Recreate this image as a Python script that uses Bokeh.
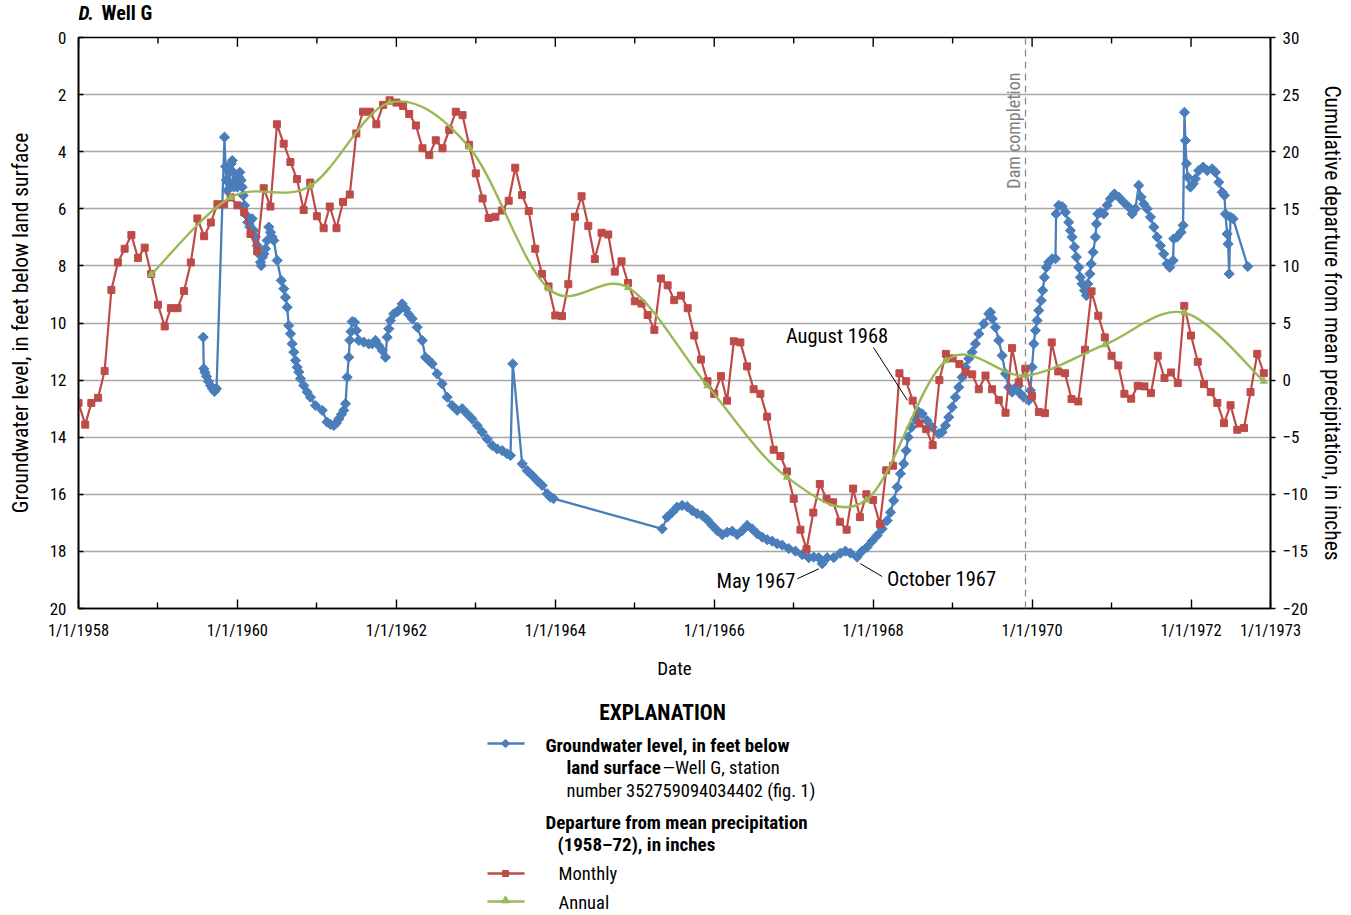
import numpy as np
import pandas as pd
from bokeh.plotting import figure
from bokeh.models import Range1d, LinearAxis, FixedTicker, Span, Grid
from bokeh.layouts import column
from bokeh.embed import file_html
from bokeh.resources import INLINE
from bokeh.core.properties import value

FONT = "Liberation Sans Narrow, Roboto Condensed, DejaVu Sans Condensed, Roboto, sans-serif"
BLUE = "#4A7EBB"
RED = "#BE4B48"
GREEN = "#98B954"

# ---------------- data ----------------
# Monthly cumulative departure from mean precipitation (inches), Jan 1958 - Dec 1972
monthly_1958 = [-2.0, -3.9, -2.0, -1.55, 0.8, 7.9, 10.3, 11.5, 12.7, 10.7, 11.6, 9.3]
monthly_1959 = [6.6, 4.7, 6.3, 6.3, 7.8, 10.3, 14.15, 12.6, 13.8, 15.4, 15.4, 16.0]
monthly_1960 = [15.3, 14.7, 12.8, 11.3, 16.8, 15.2, 22.4, 20.7, 19.1, 17.6, 14.9, 17.3]
monthly_1961 = [14.35, 13.3, 15.2, 13.3, 15.6, 16.25, 21.6, 23.5, 23.5, 22.4, 24.1, 24.5]
monthly_1962 = [24.3, 24.0, 23.3, 22.3, 20.3, 19.7, 21.0, 20.3, 21.9, 23.5, 23.2, 20.6]
monthly_1963 = [18.1, 15.9, 14.2, 14.3, 14.85, 15.7, 18.6, 16.2, 14.8, 11.5, 9.3, 8.2]
monthly_1964 = [5.66, 5.6, 8.4, 14.3, 16.1, 13.5, 10.6, 12.9, 12.75, 9.5, 10.4, 8.5]
monthly_1965 = [6.9, 6.7, 5.7, 4.4, 8.9, 8.3, 7.0, 7.4, 6.3, 3.9, 1.8, -0.1]
monthly_1966 = [-1.2, 0.35, -1.8, 3.4, 3.3, 1.2, -0.8, -1.2, -3.2, -6.1, -6.65, -8.0]
monthly_1967 = [-10.4, -13.1, -14.8, -11.6, -9.1, -10.4, -10.7, -12.4, -13.1, -9.5, -12.0, -10.0]
monthly_1968 = [-10.5, -12.6, -7.9, -7.5, 0.6, -0.1, -1.8, -3.8, -4.3, -5.7, 0.0, 2.3]
monthly_1969 = [1.9, 1.4, 0.7, 0.5, -0.8, 0.4, -0.8, -1.75, -2.86, 2.8, -0.2, 1.0]
monthly_1970 = [-1.4, -2.8, -2.9, 3.3, 0.76, 0.6, -1.66, -1.87, 2.66, 7.77, 5.64, 3.74]
monthly_1971 = [2.13, 1.28, -1.2, -1.63, -0.5, -0.55, -1.14, 2.13, 0.18, 0.67, -0.26, 6.5]
monthly_1972 = [3.9, 1.6, -0.35, -1.05, -2.0, -3.77, -2.2, -4.35, -4.2, -1.05, 2.3, 0.6]
monthly_values = (monthly_1958 + monthly_1959 + monthly_1960 + monthly_1961 + monthly_1962
                  + monthly_1963 + monthly_1964 + monthly_1965 + monthly_1966 + monthly_1967
                  + monthly_1968 + monthly_1969 + monthly_1970 + monthly_1971 + monthly_1972)
monthly_start = "1958-01-01"

# Annual cumulative departure (plotted at December of each year)
annual_years = [1958, 1959, 1960, 1961, 1962, 1963, 1964, 1965, 1966, 1967, 1968, 1969, 1970, 1971, 1972]
annual_values = [9.25, 16.0, 17.0, 24.3, 20.4, 8.0, 8.1, -0.5, -8.5, -10.5, 1.7, 0.4, 3.1, 5.9, -0.1]

# Groundwater level (feet below land surface), Well G -- time as decimal year
gw_year = [
    1959.569, 1959.577, 1959.592, 1959.611, 1959.636, 1959.661, 1959.686, 1959.711, 1959.737,
    1959.837, 1959.850, 1959.859, 1959.871, 1959.891, 1959.904, 1959.921, 1959.934, 1959.947,
    1959.954, 1959.976, 1959.997, 1960.017, 1960.030, 1960.047, 1960.060, 1960.072, 1960.089,
    1960.114, 1960.130, 1960.156, 1960.186, 1960.206, 1960.227, 1960.249, 1960.269, 1960.290,
    1960.299, 1960.315, 1960.332, 1960.353, 1960.374, 1960.395, 1960.416, 1960.437, 1960.458,
    1960.500, 1960.551, 1960.583, 1960.605, 1960.626, 1960.646, 1960.668, 1960.689, 1960.709,
    1960.731, 1960.752, 1960.772, 1960.793, 1960.835, 1960.878, 1960.919, 1960.982,
    1961.067, 1961.129, 1961.171, 1961.213, 1961.246, 1961.275, 1961.309, 1961.338, 1961.360,
    1961.381, 1961.401, 1961.414, 1961.429, 1961.444, 1961.473, 1961.498, 1961.527, 1961.590,
    1961.653, 1961.696, 1961.737, 1961.779, 1961.821, 1961.863, 1961.884, 1961.905, 1961.926,
    1961.967, 1962.010, 1962.030, 1962.073, 1962.115, 1962.156, 1962.199, 1962.262, 1962.325,
    1962.366, 1962.404, 1962.451, 1962.514, 1962.576, 1962.639, 1962.702, 1962.765, 1962.828,
    1962.891, 1962.954, 1963.017, 1963.080, 1963.143, 1963.206, 1963.269, 1963.332, 1963.394,
    1963.436, 1963.465, 1963.583, 1963.646, 1963.709, 1963.772, 1963.835, 1963.898, 1963.939,
    1963.977,
    1965.345, 1965.408, 1965.471, 1965.533, 1965.596, 1965.659, 1965.722, 1965.785, 1965.848,
    1965.911, 1965.974, 1966.037, 1966.100, 1966.163, 1966.226, 1966.289, 1966.352, 1966.414,
    1966.477, 1966.540, 1966.603, 1966.666, 1966.729, 1966.792, 1966.855, 1966.938, 1967.022,
    1967.106, 1967.189, 1967.252, 1967.315, 1967.358, 1967.421, 1967.504, 1967.588, 1967.651,
    1967.714, 1967.798, 1967.861, 1967.924, 1967.987, 1968.050, 1968.113, 1968.176, 1968.218,
    1968.259, 1968.302, 1968.343, 1968.385, 1968.415, 1968.440, 1968.482, 1968.532, 1968.574,
    1968.616, 1968.679, 1968.742, 1968.825, 1968.868, 1968.910, 1968.951, 1968.994, 1969.035,
    1969.077, 1969.120, 1969.161, 1969.203, 1969.246, 1969.287, 1969.329, 1969.392, 1969.455,
    1969.476, 1969.498, 1969.539, 1969.581, 1969.623, 1969.665, 1969.706, 1969.749, 1969.790,
    1969.828, 1969.853, 1969.895, 1969.958, 1969.979, 1970.000, 1970.021, 1970.042, 1970.063,
    1970.084, 1970.114, 1970.134, 1970.155, 1970.180, 1970.209, 1970.252, 1970.294, 1970.302,
    1970.335, 1970.378, 1970.419, 1970.461, 1970.482, 1970.504, 1970.533, 1970.558, 1970.587,
    1970.608, 1970.630, 1970.659, 1970.684, 1970.700, 1970.726, 1970.743, 1970.768, 1970.797,
    1970.810, 1970.826, 1970.860, 1970.902, 1970.944, 1970.986, 1971.036, 1971.090, 1971.153,
    1971.216, 1971.259, 1971.300, 1971.342, 1971.372, 1971.405, 1971.448, 1971.489, 1971.531,
    1971.573, 1971.615, 1971.656, 1971.699, 1971.732, 1971.774, 1971.782, 1971.824, 1971.875,
    1971.900, 1971.917, 1971.929, 1971.942, 1971.958, 1971.992, 1972.026, 1972.055, 1972.097,
    1972.152, 1972.203, 1972.265, 1972.307, 1972.349, 1972.392, 1972.421, 1972.433, 1972.455,
    1972.467, 1972.480, 1972.496, 1972.530, 1972.714,
]
gw_level = [
    10.5, 11.6, 11.73, 11.87, 12.05, 12.19, 12.3, 12.4, 12.3,
    3.49, 4.52, 5.0, 5.36, 4.66, 5.12, 4.42, 4.31, 4.72,
    5.24, 5.0, 5.24, 4.89, 4.72, 5.0, 5.24, 5.53, 5.88,
    6.23, 6.47, 6.64, 6.35, 6.76, 6.99, 7.29, 7.58, 7.87,
    7.99, 7.69, 7.58, 7.4, 7.11, 6.64, 6.82, 6.99, 7.11,
    7.81, 8.51, 8.8, 9.1, 9.45, 10.09, 10.38, 10.73, 11.02,
    11.31, 11.55, 11.72, 11.95, 12.19, 12.42, 12.6, 12.89,
    13.06, 13.47, 13.55, 13.59, 13.5, 13.36, 13.2, 13.06, 12.83,
    11.9, 11.2, 10.6, 10.3, 9.95, 9.97, 10.26, 10.61, 10.67,
    10.73, 10.73, 10.61, 10.79, 10.96, 11.2, 10.5, 10.2, 9.91,
    9.68, 9.6, 9.56, 9.33, 9.5, 9.7, 9.85, 10.15, 10.61,
    11.2, 11.3, 11.43, 11.78, 12.13, 12.6, 12.89, 13.06, 13.0,
    13.18, 13.36, 13.59, 13.82, 14.06, 14.29, 14.41, 14.47, 14.58,
    14.64, 11.43, 14.93, 15.17, 15.34, 15.52, 15.69, 15.98, 16.1,
    16.15,
    17.21, 16.8, 16.63, 16.45, 16.39, 16.43, 16.57, 16.68, 16.74,
    16.89, 17.09, 17.27, 17.41, 17.33, 17.29, 17.41, 17.27, 17.09,
    17.21, 17.38, 17.5, 17.59, 17.64, 17.73, 17.78, 17.9, 17.99,
    18.11, 18.22, 18.2, 18.22, 18.43, 18.22, 18.22, 18.06, 17.99,
    18.06, 18.2, 17.99, 17.85, 17.64, 17.44, 17.21, 16.92, 16.63,
    16.22, 15.75, 15.28, 14.93, 14.47, 14.0, 13.65, 13.36, 13.12,
    13.18, 13.42, 13.65, 13.88, 13.82, 13.59, 13.3, 12.95, 12.6,
    12.25, 11.9, 11.55, 11.25, 11.02, 10.73, 10.38, 10.03, 9.68,
    9.62, 9.85, 10.15, 10.61, 11.14, 11.78, 12.25, 12.42, 12.27,
    12.2, 12.48, 12.6, 12.71, 12.36, 11.55, 10.73, 10.26, 9.91,
    9.56, 9.21, 8.86, 8.4, 8.05, 7.87, 7.75, 7.75, 6.18,
    5.88, 5.92, 6.12, 6.47, 6.76, 6.99, 7.34, 7.69, 8.05,
    8.4, 8.63, 8.86, 9.04, 8.63, 8.28, 7.93, 7.52, 6.99,
    6.53, 6.18, 6.12, 6.18, 5.88, 5.65, 5.48, 5.59, 5.77,
    5.94, 6.18, 6.0, 5.18, 5.59, 5.83, 6.0, 6.29, 6.64,
    6.99, 7.29, 7.58, 7.93, 8.05, 7.81, 7.05, 6.99, 6.82,
    6.58, 2.62, 3.61, 4.42, 4.89, 5.24, 5.12, 4.95, 4.66,
    4.54, 4.66, 4.6, 4.72, 5.07, 5.42, 5.53, 6.18, 6.88,
    7.23, 8.28, 6.29, 6.35, 8.02,
]

x_major_years = [1958, 1960, 1962, 1964, 1966, 1968, 1970, 1972, 1973]
x_minor_years = [1959, 1961, 1963, 1965, 1967, 1969, 1971]
left_ticks = [0, 2, 4, 6, 8, 10, 12, 14, 16, 18, 20]
right_ticks = [30, 25, 20, 15, 10, 5, 0, -5, -10, -15, -20]
dam_completion_year = 1969.917


def decimal_year(dates):
    out = []
    for d in dates:
        days = 366 if d.is_leap_year else 365
        out.append(d.year + (d.dayofyear - 1) / days)
    return np.array(out)


monthly_x = decimal_year(pd.date_range(monthly_start, periods=len(monthly_values), freq="MS"))
annual_x = decimal_year([pd.Timestamp(y, 12, 1) for y in annual_years])
annual_y = np.array(annual_values, dtype=float)

LB, RB = 78, 81  # left / right borders shared by all stacked figures
HEAD_H = 25
TOP_B = 37 - HEAD_H

# ---------------- title strip ----------------
head = figure(width=1351, height=HEAD_H, x_range=Range1d(78, 1270), y_range=Range1d(HEAD_H, 0),
              x_axis_type=None, y_axis_type=None, output_backend="svg", toolbar_location=None,
              min_border_left=LB, min_border_right=RB, min_border_top=0, min_border_bottom=0)
head.outline_line_color = None
head.text(x=[78], y=[12.5], text=["D."], text_font=value(FONT), text_font_size="20px",
          text_font_style="bold italic", text_baseline="middle", text_align="left", text_color="black")
head.text(x=[101], y=[12.5], text=["Well G"], text_font=value(FONT), text_font_size="20px",
          text_font_style="bold", text_baseline="middle", text_align="left", text_color="black")

# ---------------- main figure ----------------
p = figure(width=1351, height=TOP_B + 571 + 82, x_range=Range1d(1958, 1973), y_range=Range1d(20, 0),
           x_axis_type=None, y_axis_type=None, output_backend="svg", toolbar_location=None,
           min_border_left=LB, min_border_right=RB, min_border_top=TOP_B, min_border_bottom=82)
p.extra_y_ranges = {"precip": Range1d(-20, 30)}
p.outline_line_color = "black"
p.outline_line_width = 1.6
p.background_fill_color = "white"

grid = Grid(dimension=1, ticker=FixedTicker(ticks=left_ticks))
grid.grid_line_color = "#A6A6A6"
grid.grid_line_width = 1.6
p.add_layout(grid)


def style_axis(ax):
    ax.axis_line_color = "black"
    ax.axis_line_width = 1.6
    ax.major_tick_line_color = "black"
    ax.minor_tick_line_color = "black"
    ax.major_tick_line_width = 1.4
    ax.minor_tick_line_width = 1.4
    ax.major_label_text_font = FONT
    ax.major_label_text_font_size = "17px"
    ax.major_label_text_color = "black"
    ax.axis_label_text_font = FONT
    ax.axis_label_text_font_size = "21.5px"
    ax.axis_label_text_font_style = "normal"
    ax.axis_label_text_color = "black"


xticker = FixedTicker(ticks=x_major_years, minor_ticks=x_minor_years)
xb = LinearAxis(ticker=xticker, axis_label="Date")
style_axis(xb)
xb.major_label_overrides = {y: "1/1/%d" % y for y in x_major_years}
xb.major_label_text_font_size = "16.5px"
xb.axis_label_text_font_size = "19px"
xb.major_tick_in = 9
xb.major_tick_out = 0
xb.minor_tick_in = 6
xb.minor_tick_out = 0
xb.major_label_standoff = 12
xb.axis_label_standoff = 14
p.add_layout(xb, "below")

# tick marks along the top edge of the frame (inward), at the same years as the bottom axis
p.segment(x0=x_major_years, y0=[0] * len(x_major_years), x1=x_major_years,
          y1=[0.32] * len(x_major_years), line_color="black", line_width=1.4)
p.segment(x0=x_minor_years, y0=[0] * len(x_minor_years), x1=x_minor_years,
          y1=[0.21] * len(x_minor_years), line_color="black", line_width=1.4)

yl = LinearAxis(ticker=FixedTicker(ticks=left_ticks),
                axis_label="Groundwater level, in feet below land surface")
style_axis(yl)
yl.major_tick_in = 5
yl.major_tick_out = 0
yl.minor_tick_in = 0
yl.minor_tick_out = 0
yl.major_label_standoff = 12
yl.axis_label_standoff = 14
p.add_layout(yl, "left")

yr = LinearAxis(y_range_name="precip", ticker=FixedTicker(ticks=right_ticks),
                axis_label="Cumulative departure from mean precipitation, in inches")
style_axis(yr)
yr.major_tick_in = 0
yr.major_tick_out = 5
yr.minor_tick_in = 0
yr.minor_tick_out = 0
yr.major_label_standoff = 7
yr.axis_label_standoff = 9
p.add_layout(yr, "right")

# Dam completion line
p.add_layout(Span(location=dam_completion_year, dimension="height", line_color="#8C8C8C",
                  line_dash="7 5", line_width=1.3))
p.text(x=[1969.765], y=[3.26], text=["Dam completion"], angle=np.pi / 2,
       text_align="center", text_baseline="middle", text_font=value(FONT),
       text_font_size="18px", text_color="#7F7F7F")

# Groundwater series
p.line(gw_year, gw_level, line_color=BLUE, line_width=2.3)
p.scatter(gw_year, gw_level, marker="square", angle=np.pi / 4, size=7.2,
          fill_color=BLUE, line_color=BLUE, line_width=1)

# Monthly precipitation departure
p.line(monthly_x, monthly_values, y_range_name="precip", line_color=RED, line_width=2.2)
p.scatter(monthly_x, monthly_values, y_range_name="precip", marker="square", size=7,
          fill_color=RED, line_color=RED, line_width=1)

# Annual precipitation departure, smoothed (Catmull-Rom as cubic Bezier segments)
ax_, ay_ = annual_x, annual_y
x0, y0, x1, y1 = ax_[:-1], ay_[:-1], ax_[1:], ay_[1:]
px_ = np.r_[ax_[0], ax_[:-2]]
py_ = np.r_[ay_[0], ay_[:-2]]
nx_ = np.r_[ax_[2:], ax_[-1]]
ny_ = np.r_[ay_[2:], ay_[-1]]
p.bezier(x0=x0, y0=y0, x1=x1, y1=y1,
         cx0=x0 + (x1 - px_) / 6, cy0=y0 + (y1 - py_) / 6,
         cx1=x1 - (nx_ - x0) / 6, cy1=y1 - (ny_ - y0) / 6,
         y_range_name="precip", line_color=GREEN, line_width=2.4)
p.scatter(annual_x, annual_y, y_range_name="precip", marker="triangle", size=7,
          fill_color=GREEN, line_color=GREEN)

# Annotations with leader lines
ann_font = dict(text_font=value(FONT), text_font_size="20.5px", text_color="black",
                text_baseline="middle", text_align="center")
p.text(x=[1967.545], y=[10.47], text=["August 1968"], **ann_font)
p.segment(x0=[1968.004], y0=[10.86], x1=[1968.432], y1=[12.71], line_color="black", line_width=1)
p.text(x=[1966.525], y=[19.05], text=["May 1967"], **ann_font)
p.segment(x0=[1967.044], y0=[18.96], x1=[1967.316], y1=[18.61], line_color="black", line_width=1)
p.text(x=[1968.86], y=[18.98], text=["October 1967"], **ann_font)
p.segment(x0=[1967.84], y0=[18.43], x1=[1968.113], y1=[18.88], line_color="black", line_width=1)

# ---------------- explanation (legend) ----------------
leg = figure(width=1351, height=225, x_range=Range1d(78, 1270), y_range=Range1d(225, 0),
             x_axis_type=None, y_axis_type=None, output_backend="svg", toolbar_location=None,
             min_border_left=LB, min_border_right=RB, min_border_top=0, min_border_bottom=0)
leg.outline_line_color = None


def ltext(x, y, s, bold=False, size="18.5px", align="left"):
    leg.text(x=[x], y=[y], text=[s], text_font=value(FONT), text_font_size=size,
             text_font_style="bold" if bold else "normal", text_align=align,
             text_baseline="middle", text_color="black")


ltext(662, 22, "EXPLANATION", bold=True, size="21.5px", align="center")
leg.line([487, 524], [53, 53], line_color=BLUE, line_width=2.5)
leg.scatter([505], [53], marker="square", angle=np.pi / 4, size=6, fill_color=BLUE, line_color=BLUE)
ltext(545, 55, "Groundwater level, in feet below", bold=True, size="19px")
ltext(566, 77, "land surface", bold=True, size="19px")
ltext(662, 77, "\u2014Well G, station")
ltext(566, 100, "number 352759094034402 (fig. 1)")
ltext(545, 132, "Departure from mean precipitation", bold=True, size="19px")
ltext(557, 154, "(1958\u201372), in inches", bold=True, size="19px")
leg.line([487, 524], [183, 183], line_color=RED, line_width=2.5)
leg.scatter([505], [183], marker="square", size=6, fill_color=RED, line_color=RED)
ltext(558, 183, "Monthly")
leg.line([487, 524], [211, 211], line_color=GREEN, line_width=2.5)
leg.scatter([505], [210], marker="triangle", size=8, fill_color=GREEN, line_color=GREEN)
ltext(558, 212, "Annual")

layout = column(head, p, leg, spacing=0)
open("out.html", "w").write(file_html(layout, INLINE))
